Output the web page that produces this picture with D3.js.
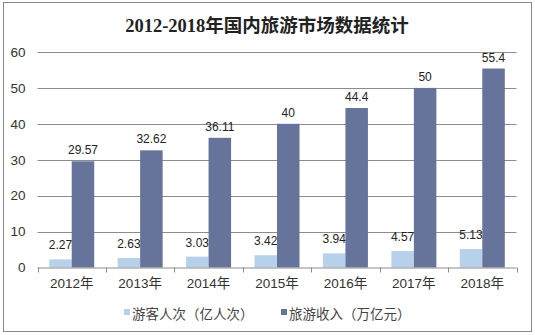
<!DOCTYPE html>
<html>
<head>
<meta charset="utf-8">
<script src="https://cdn.jsdelivr.net/npm/d3@7"></script>
<style>
  html, body { margin: 0; padding: 0; background: #fff; }
  svg { display: block; }
</style>
</head>
<body>
<svg id="chart" width="535" height="335"></svg>
<script>
// Domestic tourism statistics, 2012-2018
const years = ["2012年", "2013年", "2014年", "2015年", "2016年", "2017年", "2018年"];
const visitors = [2.27, 2.63, 3.03, 3.42, 3.94, 4.57, 5.13];      // 游客人次（亿人次）
const revenue = [29.57, 32.62, 36.11, 40, 44.4, 50, 55.4];         // 旅游收入（万亿元）
const seriesNames = ["游客人次（亿人次）", "旅游收入（万亿元）"];
const yTicks = [0, 10, 20, 30, 40, 50, 60];

const colors = ["#b8d1ea", "#66739b"];
const svg = d3.select("#chart");
const W = 535, H = 335;
const plot = { left: 37.5, right: 516.5, top: 52, bottom: 267.5 };
const sansFont = "'Liberation Sans', Arial, 'Noto Sans CJK SC', sans-serif";

// Outer frame
svg.append("rect")
  .attr("x", 3.5).attr("y", 2.5)
  .attr("width", W - 7).attr("height", H - 6)
  .attr("fill", "#fff").attr("stroke", "#8a8a8a").attr("stroke-width", 1);

// Title
svg.append("text")
  .attr("x", 267).attr("y", 32)
  .attr("text-anchor", "middle")
  .attr("font-family", "'Liberation Serif', 'Noto Sans CJK SC', serif")
  .attr("font-weight", "bold")
  .attr("font-size", 18.5)
  .attr("fill", "#222")
  .text("2012-2018年国内旅游市场数据统计");

const x = d3.scaleBand().domain(years).range([plot.left, plot.right]).paddingInner(0).paddingOuter(0);
const y = d3.scaleLinear().domain([0, 60]).range([plot.bottom, plot.top]);

// Horizontal gridlines
svg.append("g")
  .selectAll("line")
  .data(yTicks.filter(t => t > 0))
  .join("line")
  .attr("x1", plot.left).attr("x2", plot.right)
  .attr("y1", d => Math.round(y(d)) + 0.5).attr("y2", d => Math.round(y(d)) + 0.5)
  .attr("stroke", "#8c8c8c").attr("stroke-width", 1);

// Y axis labels
const yAxis = d3.axisLeft(y).tickValues(yTicks).tickSize(0).tickPadding(12);
const gy = svg.append("g").attr("transform", `translate(${plot.left},0)`).call(yAxis);
gy.select(".domain").remove();
gy.selectAll("text")
  .attr("font-family", sansFont).attr("font-size", 13.5).attr("fill", "#333");

// Bars
const inner = d3.scaleBand().domain([0, 1]).range([0, x.bandwidth()]).paddingInner(0).paddingOuter(0.52);
const groups = svg.append("g").selectAll("g")
  .data(years)
  .join("g")
  .attr("transform", d => `translate(${x(d)},0)`);

const seriesData = [visitors, revenue];
seriesData.forEach((vals, s) => {
  groups.append("rect")
    .attr("x", inner(s))
    .attr("width", inner.bandwidth())
    .attr("y", (d, i) => y(vals[i]))
    .attr("height", (d, i) => y(0) - y(vals[i]))
    .attr("fill", colors[s]);
  groups.append("text")
    .attr("x", inner(s) + inner.bandwidth() / 2)
    .attr("y", (d, i) => y(vals[i]) - (s === 0 ? 10 : 7))
    .attr("text-anchor", "middle")
    .attr("font-family", sansFont).attr("font-size", 12).attr("fill", "#222")
    .text((d, i) => vals[i]);
});

// X axis with ticks between categories
const xAxis = svg.append("g");
xAxis.append("line")
  .attr("x1", plot.left).attr("x2", plot.right)
  .attr("y1", plot.bottom + 0.5).attr("y2", plot.bottom + 0.5)
  .attr("stroke", "#8c8c8c");
xAxis.selectAll("line.tick")
  .data(years.map(d => x(d)).concat([plot.right]))
  .join("line").attr("class", "tick")
  .attr("x1", d => Math.round(d) + 0.5).attr("x2", d => Math.round(d) + 0.5)
  .attr("y1", plot.bottom).attr("y2", plot.bottom + 5)
  .attr("stroke", "#8c8c8c");
xAxis.selectAll("text")
  .data(years)
  .join("text")
  .attr("x", d => x(d) + x.bandwidth() / 2)
  .attr("y", 288)
  .attr("text-anchor", "middle")
  .attr("font-family", sansFont).attr("font-size", 13.5).attr("fill", "#333")
  .text(d => d);

// Legend
const legendItems = [{ x: 124, name: seriesNames[0], c: colors[0] }, { x: 281, name: seriesNames[1], c: colors[1] }];
const lg = svg.append("g").selectAll("g").data(legendItems).join("g");
lg.append("rect")
  .attr("x", d => d.x).attr("y", 309)
  .attr("width", 6).attr("height", 6)
  .attr("fill", d => d.c);
lg.append("text")
  .attr("x", d => d.x + 8).attr("y", 319)
  .attr("font-family", "'Noto Sans CJK SC', sans-serif")
  .attr("font-size", 13.5).attr("fill", "#444")
  .text(d => d.name);
</script>
</body>
</html>
